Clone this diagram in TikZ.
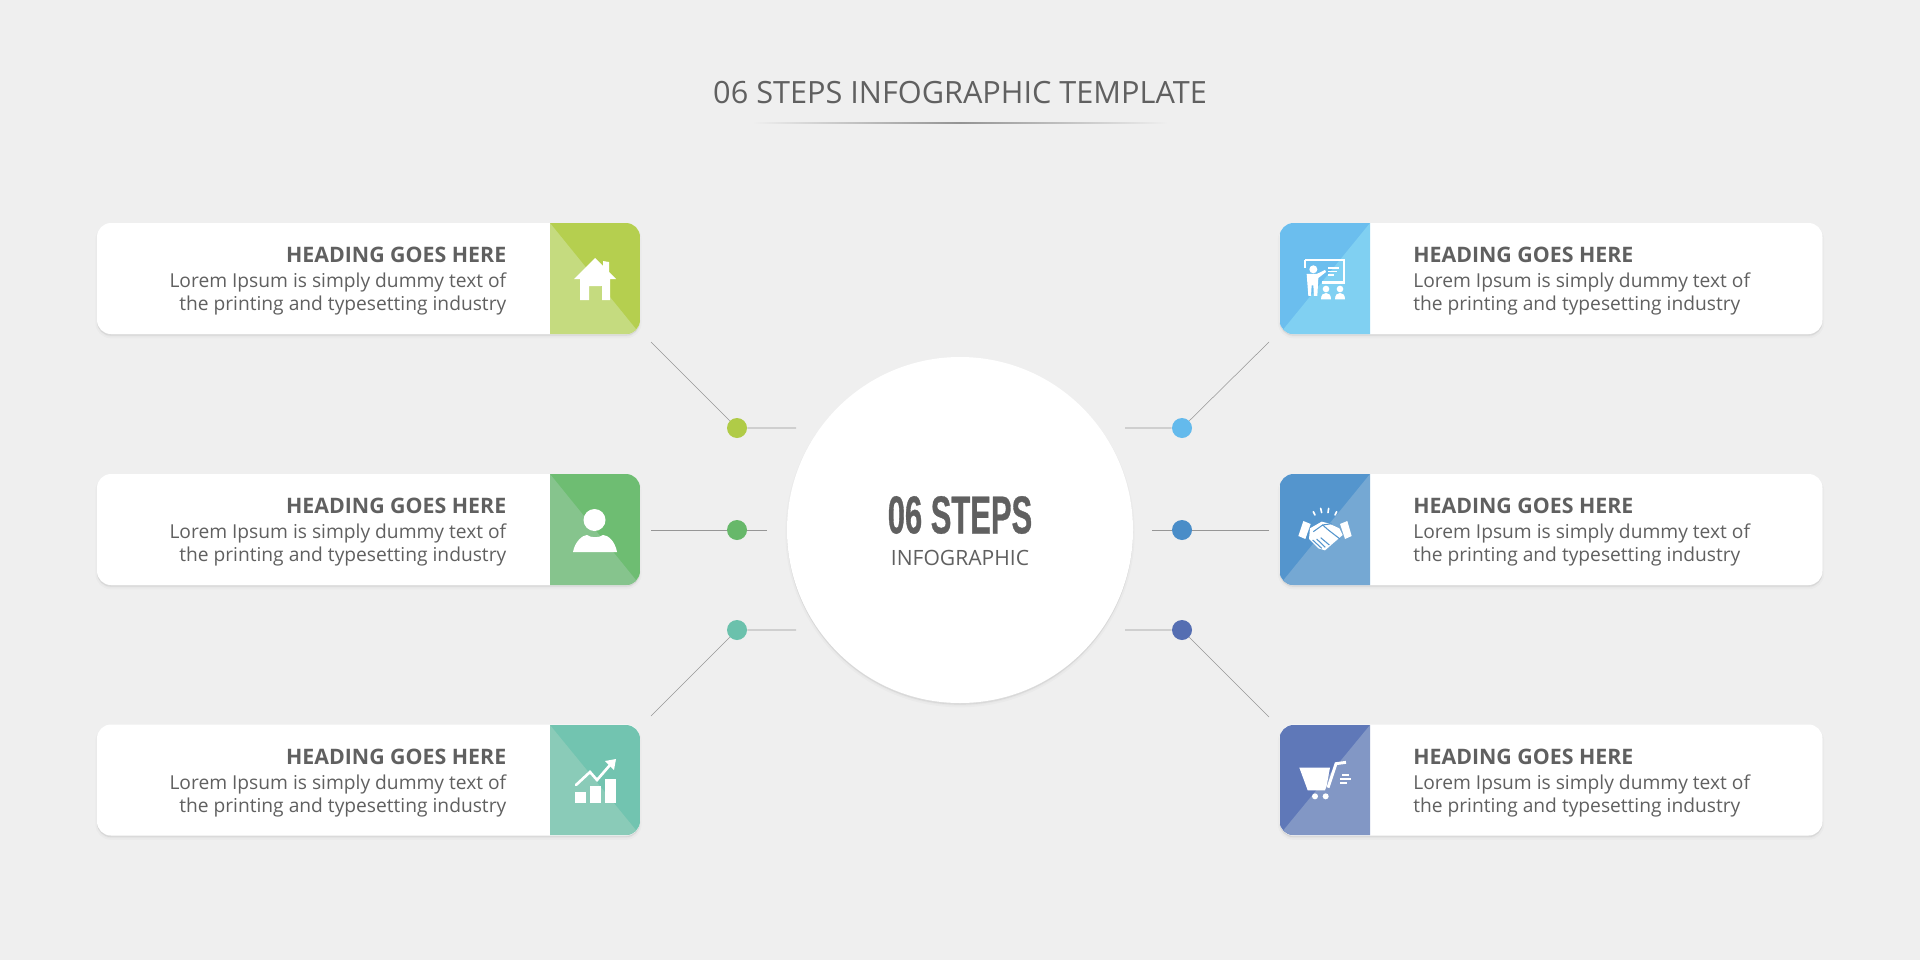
\documentclass[tikz,border=0pt]{standalone}
\usepackage{fontspec}
\setmainfont{Open Sans}
\newfontfamily\condfont[FakeStretch=0.58,FakeBold=0.6,BoldFont={Liberation Sans Bold}]{Liberation Sans}
\usetikzlibrary{shadows}

\definecolor{pagegray}{RGB}{239,239,239}
\definecolor{inkgray}{RGB}{96,96,96}
\definecolor{limedark}{RGB}{181,207,79}
\definecolor{limelight}{RGB}{197,219,127}
\definecolor{greendark}{RGB}{110,189,114}
\definecolor{greenlight}{RGB}{134,196,141}
\definecolor{tealdark}{RGB}{114,196,176}
\definecolor{teallight}{RGB}{138,203,184}
\definecolor{skydark}{RGB}{107,190,238}
\definecolor{skylight}{RGB}{128,208,242}
\definecolor{bluedark}{RGB}{84,149,205}
\definecolor{bluelight}{RGB}{117,168,211}
\definecolor{indigodark}{RGB}{95,120,184}
\definecolor{indigolight}{RGB}{130,151,197}

\tikzset{
softshadow/.style={general shadow={shadow yshift=-2pt,fill=black,draw=black,line width=2.5pt,opacity=.02},
general shadow={shadow yshift=-1.2pt,fill=black,opacity=.06}},
card/.style={fill=white,rounded corners=10.5pt,minimum width=407.25pt,minimum height=83.25pt,inner sep=0pt,softshadow},
bigdisc/.style={circle,fill=white,minimum size=259.5pt,inner sep=0pt,softshadow},
link/.style={draw={rgb,255:red,150;green,150;blue,150},line width=0.4pt},
dot/.style={circle,minimum size=15pt,inner sep=0pt},
heading/.style={inner sep=0.75pt,text=inkgray,font=\fontsize{16}{18}\selectfont\bfseries},
bodytext/.style={inner sep=0.75pt,text=inkgray,font=\fontsize{14.4}{17.6}\selectfont},
glyph/.style={fill=white,draw=none},
glyphline/.style={draw=white,line width=2pt,line cap=round}
}

\begin{document}
\begin{tikzpicture}[x=0.75pt,y=0.75pt,yscale=-1,xscale=1]
\useasboundingbox (0,0) rectangle (1920,960);
\fill [pagegray] (0,0) rectangle (1920,960);

% Text Node
\draw (960,93) node (title) [inner sep=0.75pt,text=inkgray,font=\fontsize{23}{26}\selectfont] {06 STEPS INFOGRAPHIC TEMPLATE};
%Shape: Rule
\shade [left color=pagegray,right color=pagegray,middle color=gray!85] (752,122) rectangle (1168,123.5);

%Shape: Circle
\node (hub) [bigdisc] at (960,530) {};
% Text Node
\draw (960,515) node (hubtitle) [inner sep=0.75pt,text=inkgray,font=\fontsize{40}{44}\condfont\bfseries] {06 STEPS};
\draw (960,558) node (hubsub) [inner sep=0.75pt,text=inkgray,font=\fontsize{15.8}{18}\selectfont] {INFOGRAPHIC};

%Shape: Cards
\node (card1) [card] at (368.5,278.5) {};
\node (card2) [card] at (368.5,529.5) {};
\node (card3) [card] at (368.5,780) {};
\node (card4) [card] at (1551,278.5) {};
\node (card5) [card] at (1551,529.5) {};
\node (card6) [card] at (1551,780) {};

%Shape: Colour blocks, left
\begin{scope}
\clip [rounded corners=10.5pt] (97,223) rectangle (640,334);
\fill [limedark] (550,223) rectangle (640,334);
\fill [limelight] (550,223) -- (640,334) -- (550,334) -- cycle;
\end{scope}
\begin{scope}
\clip [rounded corners=10.5pt] (97,474) rectangle (640,585);
\fill [greendark] (550,474) rectangle (640,585);
\fill [greenlight] (550,474) -- (640,585) -- (550,585) -- cycle;
\end{scope}
\begin{scope}
\clip [rounded corners=10.5pt] (97,725) rectangle (640,835);
\fill [tealdark] (550,725) rectangle (640,835);
\fill [teallight] (550,725) -- (640,835) -- (550,835) -- cycle;
\end{scope}
%Shape: Colour blocks, right
\begin{scope}
\clip [rounded corners=10.5pt] (1279.5,223) rectangle (1822.5,334);
\fill [skydark] (1279.5,223) rectangle (1370,334);
\fill [skylight] (1370,223) -- (1370,334) -- (1279.5,334) -- cycle;
\end{scope}
\begin{scope}
\clip [rounded corners=10.5pt] (1279.5,474) rectangle (1822.5,585);
\fill [bluedark] (1279.5,474) rectangle (1370,585);
\fill [bluelight] (1370,474) -- (1370,585) -- (1279.5,585) -- cycle;
\end{scope}
\begin{scope}
\clip [rounded corners=10.5pt] (1279.5,725) rectangle (1822.5,835);
\fill [indigodark] (1279.5,725) rectangle (1370,835);
\fill [indigolight] (1370,725) -- (1370,835) -- (1279.5,835) -- cycle;
\end{scope}

% Text Node
\draw (507.5,255) node (head1) [heading,anchor=east] {HEADING GOES HERE};
\draw (507.5,294) node (body1) [bodytext,anchor=east,align=right] {Lorem Ipsum is simply dummy text of\\the printing and typesetting industry};
\draw (507.5,506) node (head2) [heading,anchor=east] {HEADING GOES HERE};
\draw (507.5,545) node (body2) [bodytext,anchor=east,align=right] {Lorem Ipsum is simply dummy text of\\the printing and typesetting industry};
\draw (507.5,757) node (head3) [heading,anchor=east] {HEADING GOES HERE};
\draw (507.5,796) node (body3) [bodytext,anchor=east,align=right] {Lorem Ipsum is simply dummy text of\\the printing and typesetting industry};
\draw (1412,255) node (head4) [heading,anchor=west] {HEADING GOES HERE};
\draw (1412,294) node (body4) [bodytext,anchor=west,align=left] {Lorem Ipsum is simply dummy text of\\the printing and typesetting industry};
\draw (1412,506) node (head5) [heading,anchor=west] {HEADING GOES HERE};
\draw (1412,545) node (body5) [bodytext,anchor=west,align=left] {Lorem Ipsum is simply dummy text of\\the printing and typesetting industry};
\draw (1412,757) node (head6) [heading,anchor=west] {HEADING GOES HERE};
\draw (1412,796) node (body6) [bodytext,anchor=west,align=left] {Lorem Ipsum is simply dummy text of\\the printing and typesetting industry};

%Shape: Dots
\node (dot1) [dot,fill={rgb,255:red,176;green,203;blue,71}] at (737,428) {};
\node (dot2) [dot,fill={rgb,255:red,103;green,184;blue,106}] at (737,530) {};
\node (dot3) [dot,fill={rgb,255:red,107;green,193;blue,172}] at (737,630) {};
\node (dot4) [dot,fill={rgb,255:red,100;green,186;blue,236}] at (1182,428) {};
\node (dot5) [dot,fill={rgb,255:red,74;green,141;blue,200}] at (1182,530) {};
\node (dot6) [dot,fill={rgb,255:red,85;green,110;blue,178}] at (1182,630) {};

%Shape: Free ends of the links
\coordinate (a1) at (651,342);
\coordinate (b1) at (796,428);
\coordinate (a2) at (651,530);
\coordinate (b2) at (767,530);
\coordinate (a3) at (651,716);
\coordinate (b3) at (796,630);
\coordinate (a4) at (1269,342);
\coordinate (b4) at (1125,428);
\coordinate (a5) at (1269,530);
\coordinate (b5) at (1152,530);
\coordinate (a6) at (1269,717);
\coordinate (b6) at (1125,630);

%Straight Lines
\draw [link] (a1) -- (dot1) -- (b1);
\draw [link] (a2) -- (dot2) -- (b2);
\draw [link] (a3) -- (dot3) -- (b3);
\draw [link] (a4) -- (dot4) -- (b4);
\draw [link] (a5) -- (dot5) -- (b5);
\draw [link] (a6) -- (dot6) -- (b6);

%Shape: House
\fill [glyph] (595,258) -- (603,266) -- (603,261) -- (609,262) -- (609,272) -- (616,279) -- (610,279) -- (610,300) -- (602,300) -- (602,286) -- (589,286) -- (589,300) -- (580,300) -- (580,279) -- (574,279) -- cycle;

%Shape: Person
\fill [glyph] (594.5,520) circle [radius=11];
\fill [glyph] (573,552) .. controls (575,541) and (583,535) .. (587,535) .. controls (591,538) and (599,538) .. (603,535) .. controls (608,535) and (615,541) .. (617,552) -- cycle;

%Shape: Chart
\fill [glyph] (575,792) rectangle (586,802.5);
\fill [glyph] (590,786) rectangle (601,802.5);
\fill [glyph] (605,779) rectangle (616,802.5);
\draw [glyphline] (576,785) -- (590,772) -- (597,780) -- (610,765);
\fill [glyph] (616,759) -- (605,761) -- (614,770) -- cycle;

%Shape: Teacher
\begin{scope}[shift={(1260,210)},scale=0.3333]
\draw [draw=white,line width=1.4pt] (135,150) -- (253,150) -- (253,218);
\draw [draw=white,line width=1.4pt] (135,150) -- (135,175);
\fill [glyph] (185,214) rectangle (255,222);
\draw [draw=white,line width=1pt] (205,174) -- (236,174) (205,185) -- (232,185) (205,195) -- (222,195);
\fill [glyph] (160,178) circle [radius=12];
\fill [glyph] (140,192) -- (170,192) -- (195,180) -- (198,186) -- (175,204) -- (172,258) -- (162,258) -- (160,226) -- (155,226) -- (153,258) -- (145,258) -- cycle;
\fill [glyph] (198,237) circle [radius=10];
\fill [glyph] (240,237) circle [radius=10];
\fill [glyph] (183,268) .. controls (183,254) and (190,249) .. (198,249) .. controls (206,249) and (213,254) .. (213,268) -- cycle;
\fill [glyph] (225,268) .. controls (225,254) and (232,249) .. (240,249) .. controls (248,249) and (255,254) .. (255,268) -- cycle;
\end{scope}

%Shape: Handshake
\begin{scope}[shift={(1260,465)},scale=0.3333]
\fill [glyph] (130,168) -- (152,177) -- (136,222) -- (115,213) -- cycle;
\fill [glyph] (262,168) -- (240,177) -- (255,222) -- (275,213) -- cycle;
\fill [glyph] (150,190) -- (185,170) -- (205,175) -- (238,190) -- (248,210) -- (195,256) -- (175,250) -- (147,222) -- cycle;
\draw [draw=bluedark,line width=0.8pt] (160,200) -- (188,180) -- (205,195) -- (240,222);
\draw [draw=bluedark,line width=0.8pt] (188,180) -- (215,176);
\draw [draw=bluedark,line width=0.8pt] (158,225) -- (185,250) (170,222) -- (196,247) (182,218) -- (208,240);
\draw [glyphline,line width=1.2pt] (160,140) -- (165,150) (182,130) -- (185,143) (206,130) -- (204,143) (230,140) -- (225,150);
\end{scope}

%Shape: Cart
\begin{scope}[shift={(1260,715)},scale=0.3333]
\fill [glyph] (118,158) -- (210,158) -- (200,212) -- (195,226) -- (143,226) -- (138,212) -- cycle;
\draw [draw=white,line width=2.2pt] (204,218) -- (228,146) -- (258,142);
\fill [glyph] (165,244) circle [radius=9];
\fill [glyph] (197,244) circle [radius=9];
\draw [draw=white,line width=1pt] (246,180) -- (268,180) (240,192) -- (272,192) (240,204) -- (260,204);
\end{scope}

\end{tikzpicture}
\end{document}
